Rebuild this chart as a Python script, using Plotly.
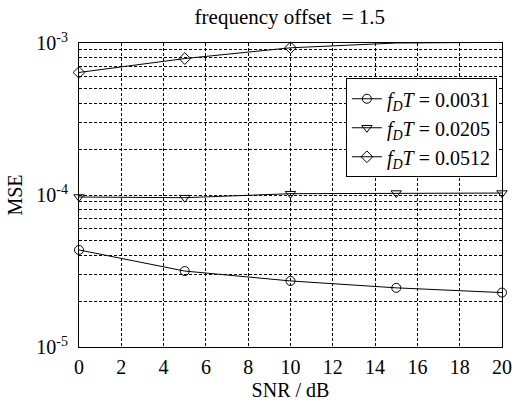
import plotly.graph_objects as go

snr_db = [0, 5, 10, 15, 20]
mse_0031 = [4.35e-5, 3.16e-5, 2.72e-5, 2.45e-5, 2.28e-5]
mse_0205 = [9.7e-5, 9.6e-5, 1.02e-4, 1.03e-4, 1.03e-4]
mse_0512 = [6.4e-4, 7.9e-4, 9.3e-4, 1.0e-3, 1.01e-3]

series_names = ["<i>f<sub>D</sub>T</i> = 0.0031",
                "<i>f<sub>D</sub>T</i> = 0.0205",
                "<i>f<sub>D</sub>T</i> = 0.0512"]
symbols = ["circle-open", "triangle-down-open", "diamond-open"]

x_ticks = [0, 2, 4, 6, 8, 10, 12, 14, 16, 18, 20]
y_major = [1e-5, 1e-4, 1e-3]
y_major_text = ["10<sup>-5</sup>", "10<sup>-4</sup>", "10<sup>-3</sup>"]
y_minor = [m * 10 ** e for e in (-5, -4) for m in range(2, 10)]

font = "'Liberation Serif', 'Times New Roman', serif"
fig = go.Figure()
for vals, name, sym in zip([mse_0031, mse_0205, mse_0512], series_names, symbols):
    fig.add_trace(go.Scatter(
        x=snr_db, y=vals, name=name, mode="lines+markers",
        line=dict(color="black", width=1),
        marker=dict(symbol=sym, size=9, color="black", line=dict(width=1, color="black")),
        cliponaxis=False,
    ))

grid_dash = "3px,2px"
fig.update_layout(
    width=527, height=402,
    margin=dict(l=79, r=25, t=43, b=55),
    paper_bgcolor="white", plot_bgcolor="white",
    font=dict(family=font, size=20, color="black"),
    title=dict(text="frequency offset  = 1.5", x=0.55, xanchor="center",
               y=0.978, yanchor="top", font=dict(size=21)),
    showlegend=True,
    legend=dict(x=0.631, y=0.884, xanchor="left", yanchor="top",
                bgcolor="white", bordercolor="black", borderwidth=1,
                font=dict(size=20), tracegroupgap=0, itemwidth=30),
)
fig.update_xaxes(
    range=[0, 20], tickvals=x_ticks, showline=True, mirror=True,
    linecolor="black", linewidth=1, showgrid=True, gridcolor="black",
    gridwidth=1, griddash=grid_dash, zeroline=False, ticks="",
    tickfont=dict(size=20), ticklabelstandoff=2, automargin=False,
    title=dict(text="SNR / dB", font=dict(size=20), standoff=5),
)
fig.update_yaxes(
    type="log", range=[-5, -3], tickvals=y_major, ticktext=y_major_text,
    showline=True, mirror=True, linecolor="black", linewidth=1,
    showgrid=True, gridcolor="black", gridwidth=1, griddash=grid_dash,
    zeroline=False, ticks="", tickfont=dict(size=20), ticklabelstandoff=6,
    automargin=False,
    minor=dict(tickvals=y_minor, showgrid=True, gridcolor="black",
               gridwidth=1, griddash=grid_dash, ticks=""),
    title=dict(text="MSE", font=dict(size=20), standoff=8),
)
fig.write_html("out.html", config={"displayModeBar": False},
               post_script="document.body.style.margin='0';")
